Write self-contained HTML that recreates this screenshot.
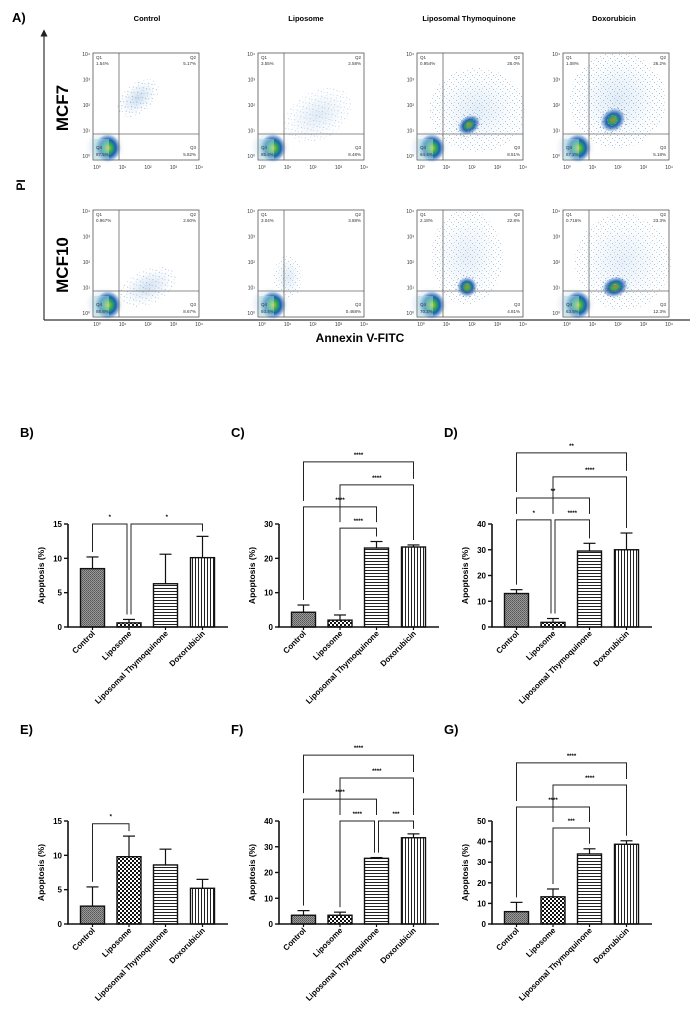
<!DOCTYPE html>
<html><head><meta charset="utf-8"><style>
html,body{margin:0;padding:0;background:#fff;}
svg{display:block;font-family:"Liberation Sans",Arial,sans-serif;}
</style></head><body>
<svg id="fig" width="692" height="1017" viewBox="0 0 692 1017" xmlns="http://www.w3.org/2000/svg">
<defs>
<pattern id="pCtrl" width="2" height="2" patternUnits="userSpaceOnUse"><rect width="2" height="2" fill="#9a9a9a"/><rect width="1" height="1" fill="#555"/><rect x="1" y="1" width="1" height="1" fill="#666"/></pattern>
<pattern id="pLipo" width="4" height="4" patternUnits="userSpaceOnUse"><rect width="4" height="4" fill="#fff"/><rect width="2" height="2" fill="#111"/><rect x="2" y="2" width="2" height="2" fill="#111"/></pattern>
<pattern id="pLT" width="3" height="3" patternUnits="userSpaceOnUse"><rect width="3" height="3" fill="#fff"/><rect width="3" height="1" fill="#222"/></pattern>
<pattern id="pDox" width="3" height="3" patternUnits="userSpaceOnUse"><rect width="3" height="3" fill="#fff"/><rect width="1" height="3" fill="#222"/></pattern>
<pattern id="pSpeck" width="7" height="7" patternUnits="userSpaceOnUse"><rect x="1" y="2" width="1" height="1" fill="#2a6ab0"/><rect x="5" y="0" width="1" height="1" fill="#5a9ad0"/><rect x="3" y="5" width="1" height="1" fill="#2a6ab0"/><rect x="6" y="4" width="1" height="1" fill="#7ab0e0"/></pattern>
<radialGradient id="gCore"><stop offset="0" stop-color="#e8c020"/><stop offset="0.3" stop-color="#30b050"/><stop offset="0.6" stop-color="#1a60b0"/><stop offset="1" stop-color="#1a60b0" stop-opacity="0"/></radialGradient>
<radialGradient id="gMid"><stop offset="0" stop-color="#e07020"/><stop offset="0.25" stop-color="#40b040"/><stop offset="0.55" stop-color="#2060b0"/><stop offset="1" stop-color="#2060b0" stop-opacity="0"/></radialGradient>
<radialGradient id="gHaze"><stop offset="0" stop-color="#4080c0" stop-opacity="0.35"/><stop offset="1" stop-color="#4080c0" stop-opacity="0"/></radialGradient>
<marker id="arr" markerWidth="6" markerHeight="6" refX="3" refY="3" orient="auto"><path d="M0,0 L6,3 L0,6 Z" fill="#222"/></marker>
</defs>
<text x="12" y="22" font-size="13" font-weight="bold">A)</text>
<line x1="44" y1="320" x2="44" y2="33" stroke="#333" stroke-width="1.2" marker-end="url(#arr)"/>
<line x1="44" y1="320" x2="690" y2="320" stroke="#333" stroke-width="1.2"/>
<text transform="translate(25,185) rotate(-90)" text-anchor="middle" font-size="12" font-weight="bold">PI</text>
<text x="360" y="342" text-anchor="middle" font-size="12" font-weight="bold">Annexin V-FITC</text>
<text transform="translate(68,108) rotate(-90)" text-anchor="middle" font-size="17" font-weight="bold">MCF7</text>
<text transform="translate(68,265) rotate(-90)" text-anchor="middle" font-size="17" font-weight="bold">MCF10</text>
<g id="flow"></g>
<g id="bars"></g>
</svg>
<script>
// ---- Flow cytometry quadrant data ----
const flowTitles = ["Control","Liposome","Liposomal Thymoquinone","Doxorubicin"];
const flowQ1 = [["1.54%","3.55%","0.954%","1.08%"],["0.967%","3.04%","2.18%","0.716%"]];
const flowQ2 = [["5.17%","2.58%","25.0%","26.2%"],["2.60%","3.88%","22.8%","23.3%"]];
const flowQ3 = [["5.82%","8.48%","8.51%","5.18%"],["8.67%","0.468%","4.81%","12.3%"]];
const flowQ4 = [["87.5%","85.4%","64.4%","67.2%"],["88.8%","93.4%","70.2%","63.8%"]];

// ---- Bar chart data ----
const categories = ["Control","Liposome","Liposomal Thymoquinone","Doxorubicin"];
const panelLabels = ["B)","C)","D)","E)","F)","G)"];
const yMax = [15,30,40,15,40,50];
const yStep = [5,10,10,5,10,10];
const valsB = [8.5,0.6,6.3,10.1], errB = [1.7,0.5,4.3,3.1];
const valsC = [4.3,2.0,23.0,23.3], errC = [2.1,1.5,1.9,0.6];
const valsD = [13.0,1.8,29.5,30.0], errD = [1.5,1.5,3.0,6.5];
const valsE = [2.6,9.8,8.6,5.2], errE = [2.8,3.0,2.3,1.3];
const valsF = [3.4,3.4,25.5,33.5], errF = [1.8,1.2,0.3,1.5];
const valsG = [6.0,13.2,34.0,38.7], errG = [4.5,3.8,2.5,1.7];
const sigB = [[0,1,15,"*"],[1,3,15,"*"]];
const sigC = [[0,3,48.1,"****"],[1,3,41.4,"****"],[0,2,35.0,"****"],[1,2,28.8,"****"]];
const sigD = [[0,3,67.6,"**"],[1,3,58.3,"****"],[0,2,50.1,"**"],[0,1,41.6,"*"],[1,2,41.6,"****"]];
const sigE = [[0,1,14.6,"*"]];
const sigF = [[0,3,65.6,"****"],[1,3,56.7,"****"],[0,2,48.5,"****"],[1,2,40,"****"],[2,3,40,"***"]];
const sigG = [[0,3,78.2,"****"],[1,3,67.5,"****"],[0,2,56.8,"****"],[1,2,46.6,"***"]];
const allVals = [valsB,valsC,valsD,valsE,valsF,valsG];
const allErr = [errB,errC,errD,errE,errF,errG];
const allSig = [sigB,sigC,sigD,sigE,sigF,sigG];

const NS = "http://www.w3.org/2000/svg";
function mk(tag, attrs, parent){const e=document.createElementNS(NS,tag);for(const k in attrs)e.setAttribute(k,attrs[k]);parent.appendChild(e);return e;}

// ---- Flow plots ----
const flowG = document.getElementById("flow");
const colLeft = [93,258,417,563], rowTop = [53,210], W=106, H=107;
const titleX = [147,306,469,614];
flowTitles.forEach((t,c)=>{
  const tt = mk("text",{x:titleX[c],y:21,"text-anchor":"middle","font-size":7.5,"font-weight":"bold"},flowG);
  
  
  tt.textContent=t;
});
const clouds = [
  [[45,-62,20,12,-40,0.55],[58,-55,16,14,0,0]],
  [[60,-45,30,20,-30,0.25],[60,-45,1,1,0,0]],
  [[52,-35,12,9,-35,1],[60,-50,40,35,0,0.4]],
  [[50,-40,13,11,-40,1],[55,-60,40,40,0,0.45]],
  [[55,-30,25,14,-25,0.45],[55,-30,1,1,0,0]],
  [[30,-40,12,18,0,0.25],[30,-40,1,1,0,0]],
  [[50,-30,10,10,-35,0.9],[50,-60,30,40,0,0.35]],
  [[52,-30,13,10,-20,0.9],[60,-55,40,40,0,0.35]]
];
for(let r=0;r<2;r++){for(let c=0;c<4;c++){
  const x=colLeft[c], y=rowTop[r], idx=r*4+c;
  const g = mk("g",{},flowG);
  
  
  mk("rect",{x:x,y:y,width:W,height:H,fill:"#fff",stroke:"#555","stroke-width":0.8},g);
  const cl = clouds[idx];
  cl.forEach((p,k)=>{ if(p[5]>0){
    const tr=`rotate(${p[4]} ${x+p[0]} ${y+H+p[1]})`;
    mk("ellipse",{cx:x+p[0],cy:y+H+p[1],rx:p[2],ry:p[3],transform:tr,fill:k===0&&p[5]>0.8?"url(#gMid)":"url(#gHaze)",opacity:k===0?Math.min(1,p[5]+0.2):p[5]},g);
    mk("ellipse",{cx:x+p[0],cy:y+H+p[1],rx:p[2]*1.2,ry:p[3]*1.2,transform:tr,fill:"url(#pSpeck)",opacity:0.5*p[5]+0.2},g);
  }});
  mk("ellipse",{cx:x+12,cy:y+H-13,rx:20,ry:17,fill:"url(#gHaze)",opacity:0.9},g);
  mk("ellipse",{cx:x+15,cy:y+H-12,rx:13,ry:14,fill:"url(#gCore)"},g);
  mk("rect",{x:x+1,y:y+H-21,width:15,height:20,fill:"#a8d8e0",opacity:0.55},g);
  const qx=x+26, qy=y+81;
  mk("line",{x1:qx,y1:y,x2:qx,y2:y+H,stroke:"#666","stroke-width":0.8},g);
  mk("line",{x1:x,y1:qy,x2:x+W,y2:qy,stroke:"#666","stroke-width":0.8},g);
  const lab=(tx,ty,s,anchor)=>{const e=mk("text",{x:tx,y:ty,"font-size":4.5,fill:"#333","text-anchor":anchor},g);e.textContent=s;};
  lab(x+3,y+6,"Q1","start"); lab(x+3,y+12,flowQ1[r][c],"start");
  lab(x+W-3,y+6,"Q2","end"); lab(x+W-3,y+12,flowQ2[r][c],"end");
  lab(x+W-3,y+H-11,"Q3","end"); lab(x+W-3,y+H-4,flowQ3[r][c],"end");
  lab(x+3,y+H-11,"Q4","start"); lab(x+3,y+H-4,flowQ4[r][c],"start");
  for(let i=0;i<5;i++){
    const tx=x+4+i*25.5, ty=y+H-4-i*25.5;
    const a=mk("text",{x:tx,y:y+H+9,"font-size":5,"text-anchor":"middle",fill:"#333"},g);a.textContent="10"+String.fromCharCode([8304,185,178,179,8308][i]);
    const b=mk("text",{x:x-3,y:ty+2,"font-size":5,"text-anchor":"end",fill:"#333"},g);b.textContent="10"+String.fromCharCode([8304,185,178,179,8308][i]);
  }
}}

// ---- Bar charts ----
const barsG = document.getElementById("bars");
const axisXs=[68,279,492], baseYs=[627,924], AH=103;
const fills=["url(#pCtrl)","url(#pLipo)","url(#pLT)","url(#pDox)"];
const offs=[24.5,61,97.5,134.5], BW=24;
for(let p=0;p<6;p++){
  const ax=axisXs[p%3], by=baseYs[Math.floor(p/3)], mx=yMax[p];
  const vals=allVals[p], errs=allErr[p], sig=allSig[p];
  const ys=v=>by-v/mx*AH;
  const xs=i=>ax+offs[i];
  const g=mk("g",{},barsG);
  
  
  const pl=mk("text",{x:ax-48,y:by-190,"font-size":13,"font-weight":"bold"},g);
  
  
  pl.textContent=panelLabels[p];
  const yl=mk("text",{transform:`translate(${ax-24},${by-AH/2}) rotate(-90)`,"text-anchor":"middle","font-size":8.5,"font-weight":"bold"},g);
  
  
  yl.textContent="Apoptosis (%)";
  vals.forEach((v,i)=>{
    const e=errs[i];
    const eb=mk("line",{x1:xs(i),x2:xs(i),y1:ys(v),y2:ys(v+e),stroke:"#111","stroke-width":1.2},g);
    
    
    mk("line",{x1:xs(i)-6,x2:xs(i)+6,y1:ys(v+e),y2:ys(v+e),stroke:"#111","stroke-width":1.2},g);
    const b=mk("rect",{x:xs(i)-BW/2,y:ys(v),width:BW,height:by-ys(v),fill:fills[i],stroke:"#111","stroke-width":1.4},g);
    
    
    mk("line",{x1:xs(i),x2:xs(i),y1:by,y2:by+3,stroke:"#111","stroke-width":1.2},g);
    const xl=mk("text",{transform:`translate(${xs(i)+3},${by+7}) rotate(-45)`,"text-anchor":"end","font-size":8,"font-weight":"bold"},g);
    
    
    xl.textContent=categories[i];
  });
  const yaxis=mk("line",{x1:ax,x2:ax,y1:by,y2:by-AH,stroke:"#111","stroke-width":1.6},g);
  
  
  const xaxis=mk("line",{x1:ax-1,x2:ax+160,y1:by,y2:by,stroke:"#111","stroke-width":1.6},g);
  
  
  for(let t=0;t<=mx;t+=yStep[p]){
    mk("line",{x1:ax-4,x2:ax,y1:ys(t),y2:ys(t),stroke:"#111","stroke-width":1.4},g);
    const tl=mk("text",{x:ax-6,y:ys(t)+3,"text-anchor":"end","font-size":8,"font-weight":"bold"},g);
    
    
    tl.textContent=t;
  }
  sig.forEach((s,si)=>{
    const [a,b,lv,star]=s, yL=ys(lv);
    const legBottom=(k)=>{
      let best=null;
      sig.forEach((o,oi)=>{ if(oi!==si && (o[0]===k||o[1]===k) && o[2]<lv){ if(best===null||o[2]>best) best=o[2]; }});
      if(best!==null) return ys(best)-6;
      return ys(vals[k]+errs[k])-5;
    };
    const shared=k=>sig.some((o,oi)=>oi!==si&&o[2]===lv&&(o[0]===k||o[1]===k));
    const xa=xs(a)+(shared(a)?2:0), xb=xs(b)-(shared(b)?2:0);
    const br=mk("path",{d:`M${xa},${legBottom(a)} L${xa},${yL} L${xb},${yL} L${xb},${legBottom(b)}`,fill:"none",stroke:"#222","stroke-width":1},g);
    
    
    const st=mk("text",{x:(xa+xb)/2,y:yL-5,"text-anchor":"middle","font-size":6,"font-weight":"bold"},g);
    
    
    st.textContent=star;
  });
}
</script>
</body></html>
